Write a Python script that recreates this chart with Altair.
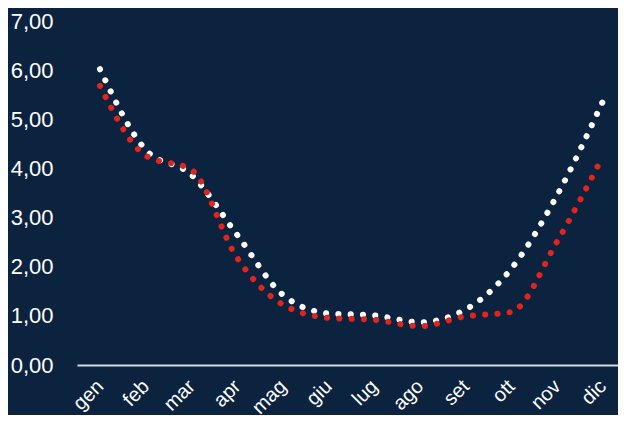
import altair as alt
import pandas as pd

months = ["gen", "feb", "mar", "apr", "mag", "giu", "lug", "ago", "set", "ott", "nov", "dic"]
serie_bianca = [6.02, 4.38, 3.87, 2.65, 1.43, 1.05, 1.01, 0.87, 1.13, 1.96, 3.45, 5.36]
serie_rossa = [5.68, 4.26, 3.97, 2.18, 1.23, 0.96, 0.92, 0.79, 0.99, 1.08, 2.51, 4.24]
y_ticks = [0, 1, 2, 3, 4, 5, 6, 7]

df_w = pd.DataFrame({"mese": months, "valore": serie_bianca})
df_r = pd.DataFrame({"mese": months, "valore": serie_rossa})

BG = "#0c2340"
FONT = "Liberation Sans"

x_enc = alt.X(
    "mese:N",
    sort=months,
    scale=alt.Scale(type="point", padding=0.419, align=0.6),
    axis=alt.Axis(
        title=None, labelAngle=-45, labelAlign="right", labelBaseline="middle",
        labelFontSize=20, labelColor="#ffffff",
        labelFont=FONT, domainColor="#d9d9d9", domainWidth=2, ticks=False,
        grid=False, labelPadding=18, labelOverlap=False, labelBound=False,
    ),
)
y_enc = alt.Y(
    "valore:Q",
    scale=alt.Scale(domain=[0, 7], nice=False),
    axis=alt.Axis(
        title=None, values=y_ticks, labelFontSize=22, labelColor="#ffffff",
        labelFont=FONT, domain=False, ticks=False, grid=False, labelPadding=24,
        labelExpr="replace(format(datum.value, '.2f'), '.', ',')",
    ),
)

dot_style = dict(strokeWidth=6, strokeDash=[0.1, 12.2], strokeCap="round", interpolate="monotone")

white_line = alt.Chart(df_w).mark_line(color="#ffffff", **dot_style).encode(x=x_enc, y=y_enc)
red_line = alt.Chart(df_r).mark_line(color="#e0251c", **dot_style).encode(x=x_enc, y=y_enc)

chart = (
    alt.layer(white_line, red_line)
    .properties(
        width=541, height=344,
        autosize=alt.AutoSizeParams(type="none"),
        padding={"left": 69, "top": 13, "right": 0, "bottom": 50},
    )
    .configure(background=BG)
    .configure_view(strokeWidth=0)
)

chart.save("out.html", embed_options={"renderer": "svg", "actions": False})
